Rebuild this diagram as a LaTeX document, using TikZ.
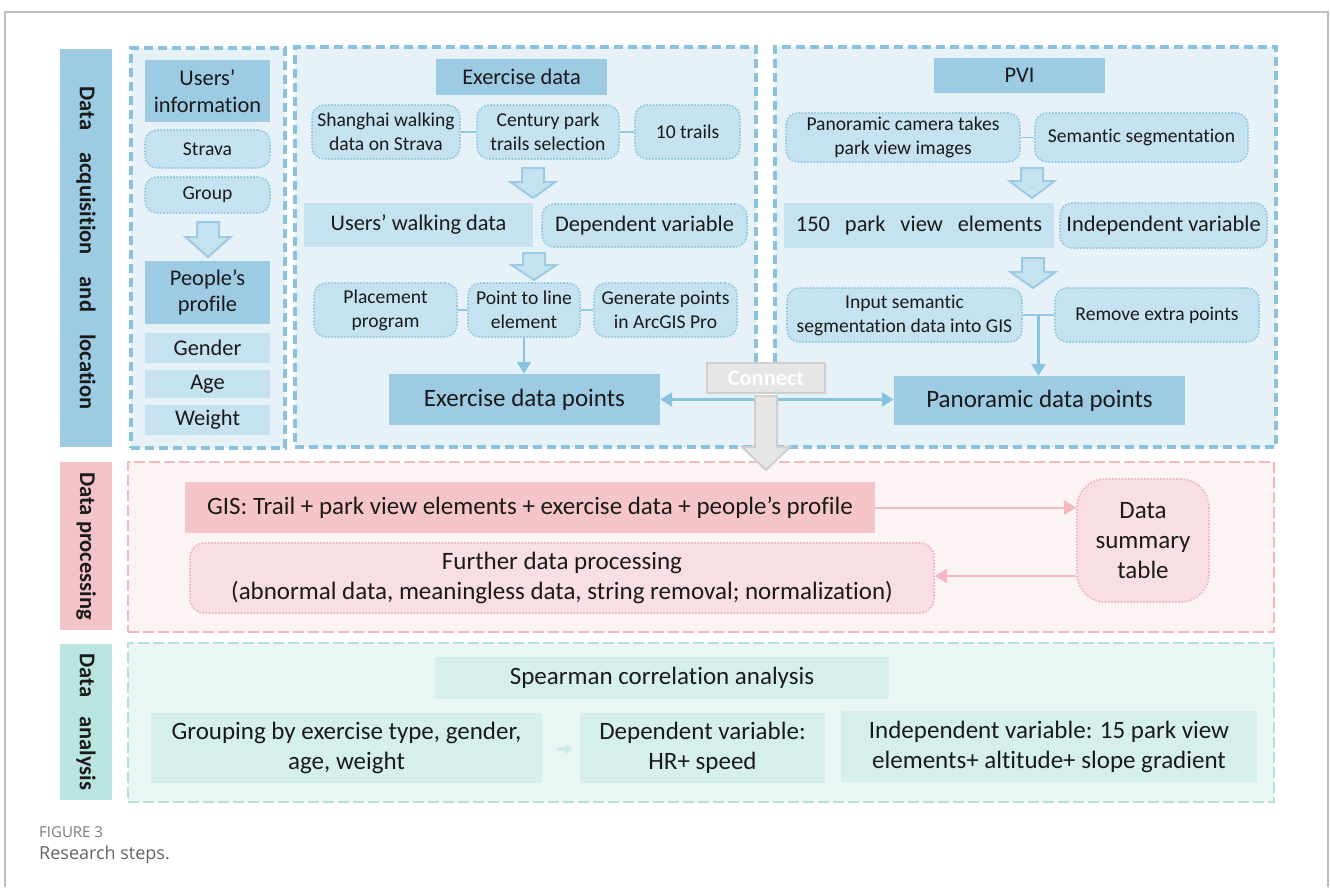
\documentclass[tikz,border=0pt]{standalone}
\usepackage{fontspec}
\setmainfont{Carlito}[Ligatures={NoCommon}]
\newfontfamily\capfont{Open Sans}
\usetikzlibrary{arrows.meta,calc}
\definecolor{bluehead}{HTML}{9DCBE3}
\definecolor{bluelight}{HTML}{C4E2EF}
\definecolor{bluepanel}{HTML}{E7F2F8}
\definecolor{bluedash}{HTML}{89C3DE}
\definecolor{bluedot}{HTML}{93C8E1}
\definecolor{pinkbar}{HTML}{F2C3C9}
\definecolor{pinkpanel}{HTML}{FCF3F5}
\definecolor{pinkgis}{HTML}{F5C5CA}
\definecolor{pinkfurther}{HTML}{F9DEE2}
\definecolor{pinkdash}{HTML}{F3B8C0}
\definecolor{pinkdot}{HTML}{F0B5BE}
\definecolor{tealbar}{HTML}{BAE4E0}
\definecolor{tealpanel}{HTML}{E9F6F4}
\definecolor{tealbox}{HTML}{D5EFEC}
\definecolor{tealdash}{HTML}{B5E1DD}
\definecolor{tealarrow}{HTML}{CDEBE8}
\definecolor{greyfill}{HTML}{E6E6E6}
\definecolor{greyline}{HTML}{CFCFCF}
\definecolor{framegrey}{HTML}{BDBDBD}
\definecolor{capgrey}{HTML}{7A7A7A}
\definecolor{capgreyb}{HTML}{666666}
\definecolor{txt}{HTML}{1A1A1A}
\newcommand{\fzsmall}{\fontsize{19.6}{24}\selectfont}
\newcommand{\fzmid}{\fontsize{22.4}{26.5}\selectfont}
\newcommand{\fzbig}{\fontsize{25}{29}\selectfont}
\newcommand{\fzwide}{\fontsize{25}{30}\selectfont}
\newcommand{\fzbar}{\fontsize{22.5}{26}\selectfont\bfseries}
\newcommand{\blkarrow}[4]{%
  \draw[blockarr] (#1-11,#2) -- (#1+11,#2) -- (#1+11,#3) -- (#1+22.5,#3) -- (#1,#4) -- (#1-22.5,#3) -- (#1-11,#3) -- cycle;}
\begin{document}
\begin{tikzpicture}[x=1pt,y=-1pt,
  every node/.style={inner sep=0pt, text=txt, align=center},
  panel/.style={line width=3.2pt, dash pattern=on 9pt off 5pt},
  bluepanelst/.style={panel, draw=bluedash, fill=bluepanel},
  pinkpanelst/.style={panel, draw=pinkdash, fill=pinkpanel, line width=2.6pt, dash pattern=on 11pt off 4pt},
  tealpanelst/.style={panel, draw=tealdash, fill=tealpanel, line width=2.6pt, dash pattern=on 11pt off 4pt},
  bar/.style={rotate=-90, minimum height=52pt, font=\fzbar},
  hdr/.style={fill=bluehead},
  lbox/.style={fill=bluelight},
  dbox/.style={fill=bluelight, draw=bluedot, line width=1.6pt, dash pattern=on 1.6pt off 1.6pt, rounded corners=12pt},
  pdbox/.style={fill=pinkfurther, draw=pinkdot, line width=1.6pt, dash pattern=on 1.6pt off 1.6pt, rounded corners=14pt},
  tbox/.style={fill=tealbox, font=\fzwide},
  link/.style={draw=bluedot, line width=1.3pt},
  barrow/.style={draw=bluedash, line width=3pt, -{Triangle[length=12pt,width=14pt]}},
  dbarrow/.style={draw=bluedash, line width=3pt, {Triangle[length=12pt,width=14pt]}-{Triangle[length=12pt,width=14pt]}},
  parrow/.style={draw=pinkdash, line width=2pt, -{Triangle[length=12pt,width=14pt]}},
  blockarr/.style={fill=bluelight, draw=bluehead, line width=2pt, line join=miter}
]
\useasboundingbox (0,0) rectangle (1330,887);
\fill[white] (0,0) rectangle (1330,887);
% outer frame
\draw[framegrey, line width=1.5pt] (5,887) -- (5,12) -- (1328,12) -- (1328,887);

% ---------- Section 1 ----------
\node[bar, fill=bluehead, minimum width=398pt] (bar1) at (86,248)
  {Data\hspace{17pt} acquisition\hspace{17pt} and\hspace{17pt} location};
\node[bluepanelst, minimum width=154pt, minimum height=400pt] (panA) at (208,248) {};
\node[bluepanelst, minimum width=461pt, minimum height=400pt] (panB) at (525.5,247) {};
\node[bluepanelst, minimum width=501pt, minimum height=400pt] (panC) at (1025.5,247) {};

% panel A
\node[hdr, minimum width=125pt, minimum height=62pt, font=\fzmid] (usersinfo) at (207.5,91) {Users'\\information};
\node[dbox, minimum width=125pt, minimum height=38pt, font=\fzsmall] (strava) at (207.5,149) {Strava};
\node[dbox, minimum width=125pt, minimum height=36pt, font=\fzsmall] (group) at (207.5,195) {Group};
\blkarrow{208}{222}{237}{257}
\node[hdr, minimum width=125pt, minimum height=63pt, font=\fzmid] (profile) at (207.5,292.5) {People's\\profile};
\node[lbox, minimum width=125pt, minimum height=30pt, font=\fzmid] (gender) at (207.5,348) {Gender};
\node[lbox, minimum width=125pt, minimum height=28pt, font=\fzmid] (age) at (207.5,384) {Age};
\node[lbox, minimum width=125pt, minimum height=30pt, font=\fzmid] (weight) at (207.5,420) {Weight};

% panel B
\node[hdr, minimum width=171pt, minimum height=36pt, font=\fzmid] (exdata) at (521.5,77) {Exercise data};
\node[dbox, minimum width=148pt, minimum height=54pt, font=\fzsmall] (shanghai) at (386,132) {Shanghai walking\\data on Strava};
\node[dbox, minimum width=142pt, minimum height=54pt, font=\fzsmall] (century) at (548,132) {Century park\\trails selection};
\node[dbox, minimum width=105pt, minimum height=54pt, font=\fzsmall] (trails) at (687.5,132) {10 trails};
\draw[link] (shanghai.east) -- (century.west);
\draw[link] (century.east) -- (trails.west);
\blkarrow{533}{168}{182}{198}
\node[lbox, minimum width=229pt, minimum height=44pt, font=\fzmid] (walking) at (418.5,225) {Users' walking data};
\node[dbox, minimum width=205pt, minimum height=43pt, font=\fzmid] (depvar) at (644.5,225.5) {Dependent variable};
\blkarrow{534}{253}{265}{280}
\node[dbox, minimum width=143pt, minimum height=54pt, font=\fzsmall] (placement) at (385.5,310) {Placement\\program};
\node[dbox, minimum width=112pt, minimum height=54pt, font=\fzsmall] (pointline) at (524,310) {Point to line\\element};
\node[dbox, minimum width=143pt, minimum height=54pt, font=\fzsmall] (generate) at (665.5,310) {Generate points\\in ArcGIS Pro};
\draw[link] (placement.east) -- (pointline.west);
\draw[link] (pointline.east) -- (generate.west);
\node[hdr, minimum width=271pt, minimum height=51pt, font=\fzbig] (expoints) at (524.5,399.5) {Exercise data points};
\draw[barrow, line width=2.5pt] (pointline.south) -- (pointline.south |- expoints.north);

% panel C
\node[hdr, minimum width=171pt, minimum height=35pt, font=\fzmid] (pvi) at (1019.5,75.5) {PVI};
\node[dbox, minimum width=234pt, minimum height=49pt, font=\fzsmall] (camera) at (903,137.5) {Panoramic camera takes\\park view images};
\node[dbox, minimum width=213pt, minimum height=49pt, font=\fzsmall] (semseg) at (1141.5,137.5) {Semantic segmentation};
\draw[link] (camera.east) -- (semseg.west);
\blkarrow{1032}{168}{181}{198}
\node[lbox, minimum width=270pt, minimum height=45pt, font=\fzmid] (elements) at (919,225.5) {150\hspace{15pt}park\hspace{15pt}view\hspace{15pt}elements};
\node[dbox, minimum width=207pt, minimum height=45pt, font=\fzmid] (indvar) at (1163.5,225.5) {Independent variable};
\blkarrow{1033}{258}{272}{288}
\node[dbox, minimum width=235pt, minimum height=54pt, font=\fzsmall] (inputseg) at (904.5,315) {Input semantic\\segmentation data into GIS};
\node[dbox, minimum width=204pt, minimum height=54pt, font=\fzsmall] (remove) at (1157,315) {Remove extra points};
\coordinate (junc) at ($(inputseg.east)!0.5!(remove.west)$);
\draw[link] (inputseg.east) -- (remove.west);
\node[hdr, minimum width=291pt, minimum height=49pt, font=\fzbig] (panpoints) at (1039.5,400.5) {Panoramic data points};
\draw[barrow, line width=2.5pt] (junc) -- (junc |- panpoints.north);

% connection between exercise and panoramic points
\draw[dbarrow] (expoints.east) -- (expoints.east -| panpoints.west);

% ---------- Section 2 ----------
\node[bar, fill=pinkbar, minimum width=168pt] (bar2) at (86,546) {Data processing};
\node[pinkpanelst, minimum width=1146pt, minimum height=170pt] (panD) at (701,547) {};
\node[fill=pinkgis, minimum width=690pt, minimum height=51pt, font=\fzwide] (gis) at (530,507.5)
  {GIS: Trail + park view elements + exercise data + people's profile};
\node[pdbox, minimum width=744pt, minimum height=70pt, font=\fzwide] (further) at (562,578)
  {Further data processing\\(abnormal data, meaningless data, string removal; normalization)};
\node[pdbox, rounded corners=28pt, minimum width=132pt, minimum height=123pt, font=\fzwide] (summary) at (1143,540.5)
  {Data\\summary\\table};
\draw[parrow] (gis.east) -- (gis.east -| summary.west);
\draw[parrow] (further.east -| summary.west) ++(0,-2) -- ($(further.east)+(0,-2)$);

% connect box and grey block arrow
\node[fill=greyfill, draw=greyline, line width=2pt, minimum width=118pt, minimum height=30pt,
      text=white, font=\fzmid\bfseries] (connect) at (766,378) {Connect};
\draw[fill=greyfill, draw=greyline, line width=2pt, line join=miter]
  (755,396) -- (777,396) -- (777,447) -- (790,447) -- (766,470) -- (742,447) -- (755,447) -- cycle;

% ---------- Section 3 ----------
\node[bar, fill=tealbar, minimum width=156pt] (bar3) at (86,722) {Data\hspace{14pt} analysis};
\node[tealpanelst, minimum width=1146pt, minimum height=159pt] (panE) at (701,722.5) {};
\node[tbox, minimum width=454pt, minimum height=42pt] (spearman) at (662,678) {Spearman correlation analysis};
\node[tbox, minimum width=391pt, minimum height=70pt] (grouping) at (346.5,748) {Grouping by exercise type, gender,\\age, weight};
\node[tbox, minimum width=245pt, minimum height=70pt] (dephr) at (702.5,748) {Dependent variable:\\HR+ speed};
\node[tbox, minimum width=416pt, minimum height=71pt] (indep) at (1049,746.5) {Independent variable: 15 park view\\elements+ altitude+ slope gradient};
\draw[draw=tealarrow, line width=4pt, -{Triangle[length=6pt,width=10pt]}] ($(grouping.east)+(15,1)$) -- ($(dephr.west)+(-8,1)$);

% caption
\node[anchor=west, font=\capfont\fontsize{15}{18}\selectfont, text=capgrey] (figlabel) at (39,832) {FIGURE 3};
\node[anchor=west, font=\capfont\fontsize{18}{21}\selectfont, text=capgreyb] (figcap) at (39,855) {Research steps.};
\end{tikzpicture}
\end{document}
